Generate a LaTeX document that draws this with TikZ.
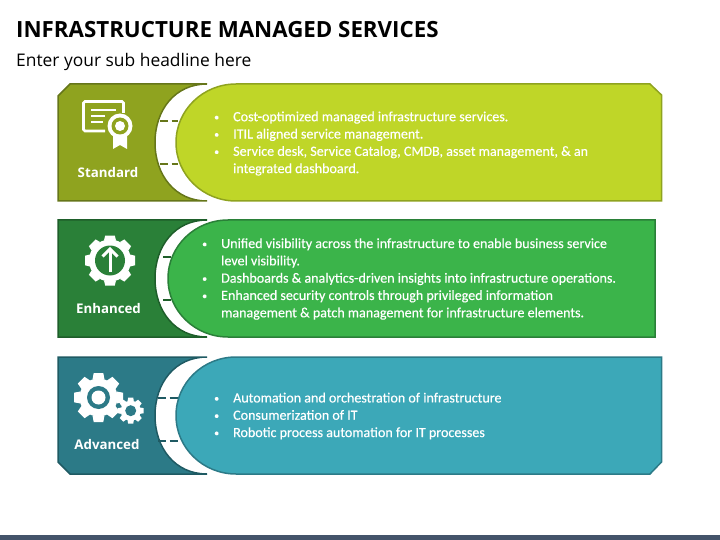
\documentclass[tikz,border=0pt]{standalone}
\usepackage{fontspec}
\setmainfont{Open Sans}
\newfontfamily\bodyfont[FakeBold=0.35]{Carlito}
\usetikzlibrary{arrows.meta,positioning,calc}
\definecolor{oliveA}{RGB}{143,163,31}
\definecolor{oliveB}{RGB}{102,118,26}
\definecolor{oliveC}{RGB}{191,214,40}
\definecolor{greenA}{RGB}{42,128,56}
\definecolor{greenB}{RGB}{30,94,42}
\definecolor{greenC}{RGB}{59,180,74}
\definecolor{tealA}{RGB}{44,122,135}
\definecolor{tealB}{RGB}{31,90,99}
\definecolor{tealC}{RGB}{60,168,184}
\definecolor{slate}{RGB}{68,84,106}
\newcommand{\bul}{\makebox[19pt][l]{\raisebox{0.8pt}{\fontsize{10}{10}\selectfont\textbullet}}}
\newcommand{\gearicon}[4]{% centre, outer radius, body radius, tooth half width
  \fill[white] (#1) circle (#3);
  \foreach \ang in {0,45,...,315}
    \fill[white,shift={(#1)},rotate=\ang] (#4,-#3+1) -- (#4*0.8,-#2) -- (-#4*0.8,-#2) -- (-#4,-#3+1) -- cycle;
}
\begin{document}
\begin{tikzpicture}[x=1pt,y=-1pt,
  every node/.style={inner sep=0pt},
  title/.style={anchor=base west, font=\fontsize{22.3}{26}\selectfont\bfseries},
  subtitle/.style={anchor=base west, font=\fontsize{17.4}{20}\selectfont},
  tag/.style={text=white, font=\fontsize{13.3}{17}\selectfont\bfseries},
  bodytext/.style={anchor=west, text=white, align=left, font=\bodyfont\fontsize{14.05}{17.3}\selectfont},
  link/.style={line width=1.3pt, dash pattern=on 8pt off 3.5pt}
]
\path[use as bounding box] (0,0) rectangle (720,540);
\fill[slate] (0,535) rectangle (720,540);

\node[title] (head) at (16,37.2) {INFRASTRUCTURE MANAGED SERVICES};
\node[subtitle] (subhead) at (16,66.5) {Enter your sub headline here};

% Standard
\filldraw[fill=oliveA, draw=oliveB, line width=1.5pt] (70,84) -- (207,84) .. controls (175,84) and (155,110) .. (155,142.5) .. controls (155,175) and (175,201) .. (207,201) -- (58,201) -- (58,96) -- cycle;
\coordinate (s1a) at (160,121);
\coordinate (s1b) at (178,121);
\coordinate (s2a) at (160,164);
\coordinate (s2b) at (178,164);
\draw[link, draw=oliveB] (s1a) -- (s1b);
\draw[link, draw=oliveB] (s2a) -- (s2b);
\filldraw[fill=oliveC, draw=oliveA, line width=1.5pt] (236,84) -- (650,84) -- (661.5,95) -- (661.5,201) -- (236,201) .. controls (203,201) and (176,175) .. (176,142.5) .. controls (176,110) and (203,84) .. (236,84) -- cycle;
\node[tag] (standard) at (108,172.5) {Standard};
\node[bodytext] (txt1) at (214,143.5) {\bul Cost-optimized managed infrastructure services.\\
  \bul ITIL aligned service management.\\
  \bul Service desk, Service Catalog, CMDB, asset management, \& an\\
  \hspace*{19pt}integrated dashboard.};

% certificate icon
\draw[white, line width=2.6pt, rounded corners=1.5pt] (105,131) -- (83.5,131) -- (83.5,101.5) -- (123.5,101.5) -- (123.5,113);
\foreach \lx/\ly in {116/110, 105/116, 103/122}
  \draw[white, line width=2.8pt] (91,\ly) -- (\lx,\ly);
\fill[white] (113,135) -- (113,149) -- (120,145) -- (127,149) -- (127,135) -- cycle;
\fill[white] (120,126) circle (12.5);
\fill[oliveA] (120,126) circle (8.5);
\fill[white] (120,126) circle (5);

% Enhanced
\filldraw[fill=greenA, draw=greenB, line width=1.5pt] (58,220) -- (207,220) .. controls (175,220) and (155,246) .. (155,278.5) .. controls (155,311) and (175,337) .. (207,337) -- (58,337) -- cycle;
\coordinate (g1a) at (163,257);
\coordinate (g1b) at (171,257);
\coordinate (g2a) at (163,300);
\coordinate (g2b) at (171,300);
\draw[link, draw=greenB] (g1a) -- (g1b);
\draw[link, draw=greenB] (g2a) -- (g2b);
\filldraw[fill=greenC, draw=greenA, line width=1.5pt] (228,220) -- (655,220) -- (655,337) -- (228,337) .. controls (195,337) and (168,311) .. (168,278.5) .. controls (168,246) and (195,220) .. (228,220) -- cycle;
\node[tag] (enhanced) at (108.5,308.5) {Enhanced};
\node[bodytext] (txt2) at (202,279) {\bul Unified visibility across the infrastructure to enable business service\\
  \hspace*{19pt}level visibility.\\
  \bul Dashboards \& analytics-driven insights into infrastructure operations.\\
  \bul Enhanced security controls through privileged information\\
  \hspace*{19pt}management \& patch management for infrastructure elements.};

% gear with arrow
\gearicon{110,260.5}{25}{21}{6}
\fill[greenA] (110,260.5) circle (15);
\draw[white, line width=3pt] (110,272) -- (110,249);
\draw[white, line width=3pt] (102.5,256.5) -- (110,249) -- (117.5,256.5);

% Advanced
\filldraw[fill=tealA, draw=tealB, line width=1.5pt] (58,357) -- (207,357) .. controls (175,357) and (155,383) .. (155,415.5) .. controls (155,448) and (175,474) .. (207,474) -- (70,474) -- (58,462) -- cycle;
\coordinate (t1a) at (158,398);
\coordinate (t1b) at (178,398);
\coordinate (t2a) at (158,441);
\coordinate (t2b) at (178,441);
\draw[link, draw=tealB] (t1a) -- (t1b);
\draw[link, draw=tealB] (t2a) -- (t2b);
\filldraw[fill=tealC, draw=tealA, line width=1.5pt] (236,357) -- (661.5,357) -- (661.5,462) -- (650,474) -- (236,474) .. controls (203,474) and (176,448) .. (176,415.5) .. controls (176,383) and (203,357) .. (236,357) -- cycle;
\node[tag] (advanced) at (107,444.5) {Advanced};
\node[bodytext] (txt3) at (214,416) {\bul Automation and orchestration of infrastructure\\
  \bul Consumerization of IT\\
  \bul Robotic process automation for IT processes};

% two gears
\gearicon{98.5,397.5}{24.5}{19}{6}
\fill[tealA] (98.5,397.5) circle (11.5);
\fill[white] (98.5,397.5) circle (7);
\gearicon{130.7,410.7}{13}{10}{3.2}
\fill[tealA] (130.7,410.7) circle (5.5);
\end{tikzpicture}
\end{document}
